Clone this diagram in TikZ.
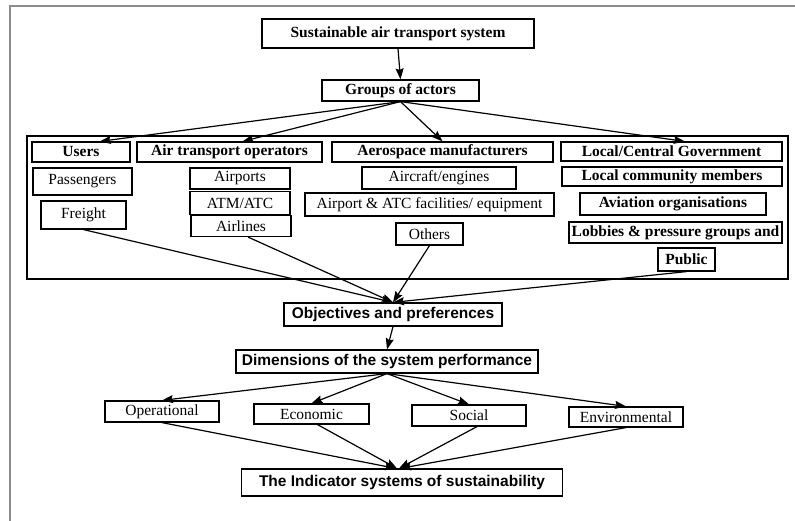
\documentclass[tikz,border=0pt]{standalone}
\usepackage{fontspec}
\setmainfont{Liberation Serif}
\setsansfont{Liberation Sans}
\usetikzlibrary{arrows.meta,calc}
\definecolor{Frame}{HTML}{8C8C8C}

\begin{document}
\begin{tikzpicture}[x=1pt,y=-1pt,>={Stealth[length=11pt,width=8pt,inset=1.5pt]},
  box/.style={draw=black,line width=1.2pt,inner sep=0pt,align=center,
    font=\fontsize{15.5}{18}\selectfont},
  headbox/.style={box,font=\fontsize{15.5}{18}\selectfont\bfseries},
  sansbox/.style={box,font=\fontsize{15.5}{18}\selectfont\sffamily\bfseries},
  arr/.style={->,line width=1.2pt}]
\useasboundingbox (0,0) rectangle (795,521);
% outer frame (left and top only)
\draw[Frame,line width=1.5pt] (10,521) -- (10,6) -- (795,6);

% top of the chart
\node[headbox,minimum width=272pt,minimum height=29pt] (title) at (398,33.5) {Sustainable air transport system};
\node[headbox,minimum width=157pt,minimum height=21pt] (groups) at (400.5,90.5) {Groups of actors};

% groups of actors
\draw[line width=1.3pt] (27,136) rectangle (788,279);
\node[headbox,minimum width=98pt,minimum height=20pt] (users) at (81,152) {Users};
\node[headbox,minimum width=185pt,minimum height=20pt] (ato) at (229.5,152) {Air transport operators};
\node[headbox,minimum width=221pt,minimum height=20pt] (aero) at (442.5,152) {Aerospace manufacturers};
\node[headbox,minimum width=221pt,minimum height=19pt] (lcg) at (671.5,151.5) {Local/Central Government};

\node[box,minimum width=99pt,minimum height=27pt] (pass) at (82.5,181.5) {Passengers};
\node[box,minimum width=85pt,minimum height=28pt] (freight) at (83.5,215) {Freight};

\node[box,minimum width=100pt,minimum height=21pt] (airports) at (240,178.5) {Airports};
\node[box,minimum width=100pt,minimum height=23pt] (atm) at (240,203) {ATM/ATC};
\node[box,minimum width=100pt,minimum height=21pt] (airlines) at (241,226) {Airlines};

\node[box,minimum width=154pt,minimum height=22pt] (aircraft) at (439,178) {Aircraft/engines};
\node[box,minimum width=249pt,minimum height=23pt] (facilities) at (429.5,204.5) {Airport \& ATC facilities/ equipment};
\node[box,minimum width=67pt,minimum height=22pt] (others) at (429.5,234) {Others};

\node[headbox,minimum width=220pt,minimum height=19pt] (lcm) at (672,176.5) {Local community members};
\node[headbox,minimum width=186pt,minimum height=22pt] (aviation) at (673,204) {Aviation organisations};
\node[headbox,minimum width=213pt,minimum height=21pt] (lobbies) at (675.5,232.5) {Lobbies \& pressure groups and};
\node[headbox,minimum width=57pt,minimum height=23pt] (public) at (686.5,259.5) {Public};

% lower part
\node[sansbox,minimum width=218pt,minimum height=23pt] (objectives) at (393,314.5) {Objectives and preferences};
\node[sansbox,minimum width=302pt,minimum height=23pt] (dims) at (387,361.5) {Dimensions of the system performance};
\node[box,minimum width=114pt,minimum height=21pt] (oper) at (162,411.5) {Operational};
\node[box,minimum width=115pt,minimum height=20pt] (econ) at (311.5,414) {Economic};
\node[box,minimum width=114pt,minimum height=21pt] (social) at (469,415.5) {Social};
\node[box,minimum width=114pt,minimum height=20pt] (env) at (626,417) {Environmental};
\node[sansbox,minimum width=321pt,minimum height=27pt] (indicator) at (402,482.5) {The Indicator systems of sustainability};

% connectors
\draw[arr] (title.south) -- (groups.north);
\draw[arr] (groups.south) -- ($(users.north west)!0.69!(users.north east)$);
\draw[arr] (groups.south) -- ($(ato.north west)!0.57!(ato.north east)$);
\draw[arr] (groups.south) -- (aero.north);
\draw[arr] (groups.south) -- ($(lcg.north west)!0.56!(lcg.north east)$);

\draw[arr] (freight.south) -- (objectives.north);
\draw[arr] ($(airlines.south west)!0.57!(airlines.south east)$) -- (objectives.north);
\draw[arr] (others.south) -- (objectives.north);
\draw[arr] (public.south) -- (objectives.north);

\draw[arr] (objectives.south) -- (dims.north);
\draw[arr] (dims.south) -- (oper.north);
\draw[arr] (dims.south) -- (econ.north);
\draw[arr] (dims.south) -- (social.north);
\draw[arr] (dims.south) -- (env.north);

\draw[arr] (oper.south) -- ($(indicator.north)+(-6,0)$);
\draw[arr] ($(econ.south)+(6,0)$) -- ($(indicator.north)+(-5,0)$);
\draw[arr] ($(social.south)+(8,0)$) -- ($(indicator.north)+(-3,0)$);
\draw[arr] (env.south) -- ($(indicator.north)+(-2,0)$);
\end{tikzpicture}
\end{document}
